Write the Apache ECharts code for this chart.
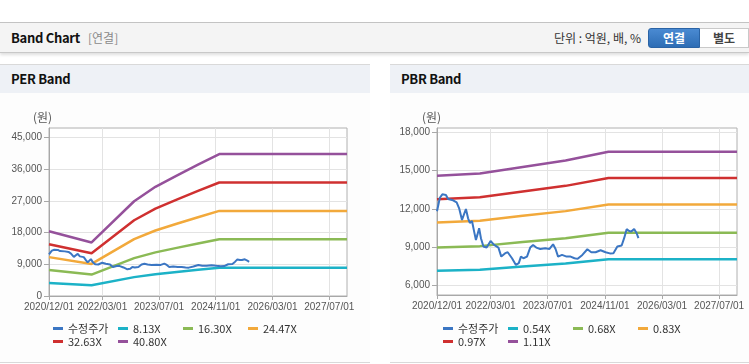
<!DOCTYPE html>
<html>
<head>
<meta charset="utf-8">
<script src="https://cdn.jsdelivr.net/npm/echarts@6/dist/echarts.min.js"></script>
<style>
html,body{margin:0;padding:0;width:749px;height:364px;overflow:hidden;background:#fff;font-family:"Noto Sans CJK KR","Noto Sans",sans-serif;}
.abs{position:absolute;box-sizing:border-box;}
#topline{left:0;top:22px;width:749px;height:1px;background:#c4c4c4;}
#bar{left:0;top:23px;width:749px;height:30px;background:#f4f4f4;border-bottom:1px solid #c8c8c8;box-shadow:0 2px 3px rgba(0,0,0,0.13);}
#title{left:11px;top:29px;font-size:13px;font-weight:bold;color:#111;line-height:18px;letter-spacing:-0.3px;}
#sub{left:88px;top:29px;font-size:12px;color:#8a8a8a;line-height:18px;}
#unit{right:108px;top:29px;font-size:12px;color:#333;line-height:18px;}
#btn1{left:648px;top:28px;width:52px;height:20px;background:linear-gradient(#4a8ad2,#2d6db5);border:1px solid #2a63a5;border-radius:3px 0 0 3px;color:#fff;font-size:12px;font-weight:bold;text-align:center;line-height:18px;}
#btn2{left:700px;top:28px;width:49px;height:20px;background:#fff;border:1px solid #c9c9c9;border-left:none;color:#444;font-size:12px;font-weight:bold;text-align:center;line-height:18px;}
.phead{top:64px;height:29px;background:#eef1f6;border-top:1px solid #d9d9d9;font-size:13px;font-weight:bold;color:#111;line-height:28px;padding-left:11px;letter-spacing:-0.3px;}
.pbody{top:93px;height:270px;background:#fdfdfd;border-bottom:1px solid #d9d9d9;}
#chart{left:0;top:0;width:749px;height:364px;}
</style>
</head>
<body>
<div class="abs" id="topline"></div>
<div class="abs" id="bar"></div>
<div class="abs" id="title">Band Chart</div>
<div class="abs" id="sub">[연결]</div>
<div class="abs" id="unit">단위 : 억원, 배, %</div>
<div class="abs" id="btn1">연결</div>
<div class="abs" id="btn2">별도</div>
<div class="abs phead" style="left:0;width:370px;">PER Band</div>
<div class="abs phead" style="left:390px;width:359px;">PBR Band</div>
<div class="abs pbody" style="left:0;width:370px;"></div>
<div class="abs pbody" style="left:390px;width:359px;"></div>
<div class="abs" id="chart"></div>
<script>
// x positions are months since 2020/12/01
const xTickMonths = [0, 15, 31, 47, 63, 79];
const xTickLabels = ['2020/12/01', '2022/03/01', '2023/07/01', '2024/11/01', '2026/03/01', '2027/07/01'];
const perTicks = [0, 9000, 18000, 27000, 36000, 45000];
const pbrTicks = [6000, 9000, 12000, 15000, 18000];

const perNames = ['수정주가', '8.13X', '16.30X', '24.47X', '32.63X', '40.80X'];
const pbrNames = ['수정주가', '0.54X', '0.68X', '0.83X', '0.97X', '1.11X'];

const priceMonths = [0, 0.8, 1.5, 2.5, 3.1, 4.5, 5.5, 6.2, 7.0, 8.1, 8.7, 9.2, 9.8, 10.4, 10.9, 11.3, 11.8, 12.3, 13.0, 13.9,
  15.0, 16.0, 17.2, 18.0, 19.1, 19.8, 21.0, 22.1, 22.9, 23.5, 24.2, 25.2, 26.1, 26.9, 27.8, 28.9, 30.3, 31.5, 32.5, 33.2,
  33.9, 35.0, 36.3, 37.4, 38.5, 39.4, 40.7, 42.1, 43.2, 44.4, 45.8, 47.2, 48.4, 49.4, 50.5, 51.7, 52.4, 53.1, 53.8, 54.4,
  55.2, 55.9, 56.4];
const priceValues = [11800, 12870, 13140, 13090, 12770, 12670, 12510, 12040, 11120, 11980, 11250, 10880, 11040, 10200, 9540, 9940, 10460, 9680, 9020, 8940,
  9460, 9150, 8940, 8230, 8500, 8570, 8100, 7570, 7710, 8230, 8100, 8230, 8940, 9150, 8940, 8830, 8890, 8830, 9200, 8830,
  8230, 8360, 8230, 8230, 8100, 8050, 8360, 8810, 8570, 8570, 8730, 8570, 8480, 8500, 9020, 9100, 9680, 10390, 10250, 10200,
  10410, 10070, 9680];

const perBandMonths = [0, 12, 24, 30, 36, 42, 48, 84];
const per813 = [3667, 3028, 5360, 6177, 6815, 7432, 8030, 8030];
const per1630 = [7351, 6072, 10747, 12385, 13663, 14901, 16099, 16099];
const per2447 = [11036, 9115, 16133, 18592, 20511, 22370, 24169, 24169];
const per3263 = [14716, 12155, 21513, 24792, 27351, 29831, 32229, 32229];
const per4080 = [18400, 15200, 26900, 31000, 34200, 37300, 40300, 40300];

const pbrBandMonths = [0, 12, 24, 36, 48, 84];
const pbr054 = [7103, 7190, 7443, 7686, 8027, 8027];
const pbr068 = [8944, 9054, 9373, 9679, 10108, 10108];
const pbr083 = [10917, 11051, 11441, 11814, 12338, 12338];
const pbr097 = [12758, 12916, 13370, 13807, 14419, 14419];
const pbr111 = [14600, 14780, 15300, 15800, 16500, 16500];

const colors = ['#3b76c3', '#1cb2c7', '#8bba55', '#f2a93b', '#cf3030', '#95519b'];
const tickFont = "'Liberation Sans',Arial,sans-serif";
const cjkFont = "'Noto Sans CJK KR','Noto Sans',sans-serif";

function pairs(xs, ys) { return xs.map((x, i) => [x, ys[i]]); }

function xAxisCfg(gi) {
  return {
    type: 'value', gridIndex: gi, min: 0, max: 84,
    axisLine: { show: true, lineStyle: { color: '#a8a8a8' } },
    axisTick: { show: true, customValues: xTickMonths, length: 4, lineStyle: { color: '#a8a8a8' } },
    axisLabel: {
      customValues: xTickMonths, color: '#555', fontSize: 10, fontFamily: tickFont, margin: 6, hideOverlap: false,
      showMinLabel: true, showMaxLabel: true,
      formatter: v => { const i = xTickMonths.indexOf(v); return i >= 0 ? xTickLabels[i] : ''; }
    },
    splitLine: { show: true, lineStyle: { color: '#e3e3e3' } }
  };
}
function yAxisCfg(gi, min, max, ticks) {
  return {
    type: 'value', gridIndex: gi, min: min, max: max,
    axisLine: { show: true, lineStyle: { color: '#a8a8a8' } },
    axisTick: { show: true, customValues: ticks, length: 5, lineStyle: { color: '#a8a8a8' } },
    axisLabel: {
      customValues: ticks, color: '#555', fontSize: 10, fontFamily: tickFont, margin: 7,
      showMinLabel: true, showMaxLabel: true,
      formatter: v => Number(v).toLocaleString('en-US')
    },
    splitLine: { show: true, lineStyle: { color: '#e3e3e3' } }
  };
}

const series = [];
function addChart(gi, names, bandMonths, bands) {
  bands.forEach((b, k) => {
    series.push({
      name: names[k + 1], type: 'line', xAxisIndex: gi, yAxisIndex: gi,
      data: pairs(bandMonths, b), showSymbol: false, symbol: 'none',
      lineStyle: { width: 2.5, color: colors[k + 1] }, itemStyle: { color: colors[k + 1] }, z: 2
    });
  });
  series.push({
    name: names[0], type: 'line', xAxisIndex: gi, yAxisIndex: gi,
    data: pairs(priceMonths, priceValues), showSymbol: false, symbol: 'none',
    lineStyle: { width: 2, color: colors[0] }, itemStyle: { color: colors[0] }, z: 3
  });
}
addChart(0, perNames, perBandMonths, [per813, per1630, per2447, per3263, per4080]);
addChart(1, pbrNames, pbrBandMonths, [pbr054, pbr068, pbr083, pbr097, pbr111]);

const legendCols = [0, 65, 130, 195, 0, 65];
const legendRows = [323, 323, 323, 323, 336, 336];
const legends = [];
[[perNames, 53], [pbrNames, 443]].forEach(([names, x0]) => {
  names.forEach((n, i) => {
    legends.push({
      data: [n], left: x0 + legendCols[i], top: legendRows[i], padding: 0,
      icon: 'rect', itemWidth: 10, itemHeight: 3, itemGap: 0, selectedMode: false,
      textStyle: { fontSize: 11, color: '#333', fontFamily: cjkFont }
    });
  });
});

const chart = echarts.init(document.getElementById('chart'), null, { renderer: 'canvas' });
chart.setOption({
  animation: false,
  backgroundColor: 'transparent',
  grid: [
    { left: 49, top: 128, width: 298, height: 168, show: true, borderColor: '#b0b0b0', borderWidth: 1, backgroundColor: '#fff' },
    { left: 437, top: 128, width: 300, height: 167, show: true, borderColor: '#b0b0b0', borderWidth: 1, backgroundColor: '#fff' }
  ],
  xAxis: [xAxisCfg(0), xAxisCfg(1)],
  yAxis: [yAxisCfg(0, 0, 47700, perTicks), yAxisCfg(1, 5200, 18370, pbrTicks)],
  legend: legends,
  graphic: [
    { type: 'text', left: 33, top: 111, style: { text: '(원)', fill: '#555', font: "12px 'Noto Sans CJK KR'" } },
    { type: 'text', left: 422, top: 111, style: { text: '(원)', fill: '#555', font: "12px 'Noto Sans CJK KR'" } }
  ],
  series: series
});
</script>
</body>
</html>
